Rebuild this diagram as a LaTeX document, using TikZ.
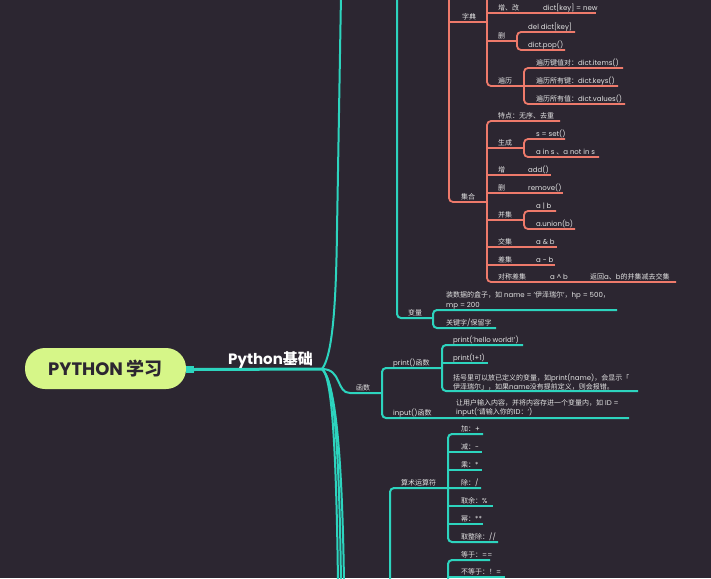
\documentclass[tikz,border=0pt]{standalone}
\usepackage{fontspec}
\setmainfont{Poppins}
\newfontfamily\cjkfont{Noto Sans CJK SC}
\newcommand\zh[1]{{\cjkfont #1}}
\definecolor{bg}{RGB}{44,38,49}
\definecolor{tealc}{RGB}{45,212,190}
\definecolor{salm}{RGB}{238,122,107}
\definecolor{rootc}{RGB}{214,246,136}
\definecolor{txt}{RGB}{228,228,228}
\tikzset{
  tl/.style={draw=tealc, line width=2pt, rounded corners=4pt},
  ol/.style={draw=salm, line width=1.8pt, rounded corners=4pt},
  lf/.style={anchor=south west, inner sep=0pt, text depth=1.6pt, font=\fontsize{7}{9.5}\selectfont, text=txt},
  lf2/.style={anchor=south west, inner sep=0pt, align=left, font=\fontsize{7}{9.2}\selectfont, text=txt},
}
\begin{document}
\begin{tikzpicture}[x=1pt,y=-1pt]
\fill[bg] (0,0) rectangle (711,578);
\useasboundingbox (0,0) rectangle (711,578);
\clip (0,0) rectangle (711,578);

% ---------- orange branch (字典 / 集合)
\draw[ol] (449,-5) -- (449,202) -- (487,202);
\draw[ol] (449,22) -- (487,22);
\draw[ol] (487,-5) -- (487,86) -- (618,86);
\draw[ol] (487,13) -- (596,13);
\draw[ol] (487,41) -- (517,41);
\draw[ol] (575,32) -- (517,32) -- (517,50) -- (565,50);
\draw[ol] (623,68) -- (524,68) -- (524,104) -- (625,104);
\draw[ol] (560,121) -- (487,121) -- (487,282) -- (676,282);
\draw[ol] (487,148) -- (524,148);
\draw[ol] (565,139) -- (524,139) -- (524,157) -- (599,157);
\draw[ol] (487,175) -- (551,175);
\draw[ol] (487,193) -- (563,193);
\draw[ol] (487,220) -- (524,220);
\draw[ol] (556,211) -- (524,211) -- (524,229) -- (575,229);
\draw[ol] (487,247) -- (557,247);
\draw[ol] (487,265) -- (555,265);

\node[lf] (zd) at (462,21) {\zh{字典}};
\node[lf] (jh) at (461,201) {\zh{集合}};
\node[lf] (zg) at (498,12) {\zh{增、改}};
\node[lf] (zgv) at (543,12) {dict[key] = new};
\node[lf] (sc) at (498,40) {\zh{删}};
\node[lf] (sc1) at (528,31) {del dict[key]};
\node[lf] (sc2) at (528,49) {dict.pop()};
\node[lf] (bl) at (498,85) {\zh{遍历}};
\node[lf] (bl1) at (536,67) {\zh{遍历键值对：}dict.items()};
\node[lf] (bl2) at (536,85) {\zh{遍历所有键：}dict.keys()};
\node[lf] (bl3) at (536,103) {\zh{遍历所有值：}dict.values()};
\node[lf] (td) at (498,120) {\zh{特点：无序、去重}};
\node[lf] (scg) at (498,147) {\zh{生成}};
\node[lf] (scg1) at (536,138) {s = set()};
\node[lf] (scg2) at (536,156) {a in s \zh{、}a not in s};
\node[lf] (jz) at (498,174) {\zh{增}};
\node[lf] (jz1) at (528,174) {add()};
\node[lf] (js) at (498,192) {\zh{删}};
\node[lf] (js1) at (528,192) {remove()};
\node[lf] (bj) at (498,219) {\zh{并集}};
\node[lf] (bj1) at (536,210) {a | b};
\node[lf] (bj2) at (536,228) {a.union(b)};
\node[lf] (jj) at (498,246) {\zh{交集}};
\node[lf] (jj1) at (536,246) {a \& b};
\node[lf] (cj) at (498,264) {\zh{差集}};
\node[lf] (cj1) at (536,264) {a - b};
\node[lf] (dc) at (498,281) {\zh{对称差集}};
\node[lf] (dc1) at (550,281) {a \textasciicircum{} b};
\node[lf] (dc2) at (590,281) {\zh{返回}a\zh{、}b\zh{的并集减去交集}};

% ---------- root and main branch
\node[fill=rootc, rounded corners=20pt, minimum width=161pt, minimum height=41pt, inner sep=0pt,
      font=\fontsize{18}{20}\selectfont\bfseries, text=bg] (root) at (105.5,368.5) {PYTHON \zh{学习}};
\fill[tealc] (186,366) rectangle (194,373);
\coordinate (jn) at (322,369);
\draw[tealc, line width=3pt] (194,369.5) -- (jn);
\node[anchor=base west, inner sep=0pt, font=\fontsize{15}{17}\selectfont\bfseries, text=white] (pyb) at (228,364.5) {Python\zh{基础}};

% upward curve
\draw[tl] (jn) .. controls (333,355) and (336,300) .. (337,230) -- (341,-5);
% downward curves
\draw[tl] (jn) .. controls (331,376) and (336,430) .. (338,583);
\draw[tl] (jn) .. controls (333,378) and (339,430) .. (341,583);
\draw[tl] (jn) .. controls (334,380) and (342,440) .. (344,583);

% ---------- 变量
\draw[tl] (397,-5) -- (397,318) -- (433,318);
\draw[tl] (617,310) -- (433,310) -- (433,328) -- (496,328);
\node[lf] (bl) at (408,317) {\zh{变量}};
\node[lf2] (bl1) at (446,309.2) {\zh{装数据的盒子，如} name = '\zh{伊泽瑞尔}'\zh{，}hp = 500\zh{，}\\mp = 200};
\node[lf] (bl2) at (446,327) {\zh{关键字}/\zh{保留字}};

% ---------- 函数
\draw[tl] (jn) .. controls (342,369) and (336,393) .. (354,393) -- (382,393);
\draw[tl] (442,368) -- (382,368) -- (382,418) -- (629,418);
\draw[tl] (523,345) -- (442,345) -- (442,391) -- (638,391);
\draw[tl] (442,363) -- (488,363);
\node[lf] (hs) at (356,392) {\zh{函数}};
\node[lf] (pf) at (393,367) {print()\zh{函数}};
\node[lf] (pf1) at (453,344) {print('hello world!')};
\node[lf] (pf2) at (453,362) {print(1+1)};
\node[lf2] (pf3) at (453,390.2) {\zh{括号里可以放已定义的变量，如}print(name)\zh{，会显示「}\\\zh{伊泽瑞尔」，如果}name\zh{没有提前定义，则会报错。}};
\node[lf] (inf) at (393,417) {input()\zh{函数}};
\node[lf2] (inf1) at (456,416.6) {\zh{让用户输入内容，并将内容存进一个变量内，如} ID =\\input('\zh{请输入你的}ID\zh{：}')};

% ---------- 算术运算符
\draw[tl] (390,583) -- (390,488) -- (481,488);
\draw[tl] (483,434) -- (448,434) -- (448,542) -- (498,542);
\draw[tl] (448,452) -- (482,452);
\draw[tl] (448,470) -- (482,470);
\draw[tl] (448,506) -- (493,506);
\draw[tl] (448,524) -- (483,524);
\draw[tl] (490,560) -- (448,560) -- (448,583);
\draw[tl] (448,577) -- (505,577);
\node[lf] (ss) at (401,487) {\zh{算术运算符}};
\node[lf] (s1) at (461,433) {\zh{加：}+};
\node[lf] (s2) at (461,451) {\zh{减：}-};
\node[lf] (s3) at (461,469) {\zh{乘：}*};
\node[lf] (s4) at (461,487) {\zh{除：}/};
\node[lf] (s5) at (461,505) {\zh{取余：}\%};
\node[lf] (s6) at (461,523) {\zh{幂：}**};
\node[lf] (s7) at (461,541) {\zh{取整除：}//};
\node[lf] (b1) at (461,559) {\zh{等于：}==};
\node[lf] (b2) at (461,576) {\zh{不等于：！}=};
\end{tikzpicture}
\end{document}
